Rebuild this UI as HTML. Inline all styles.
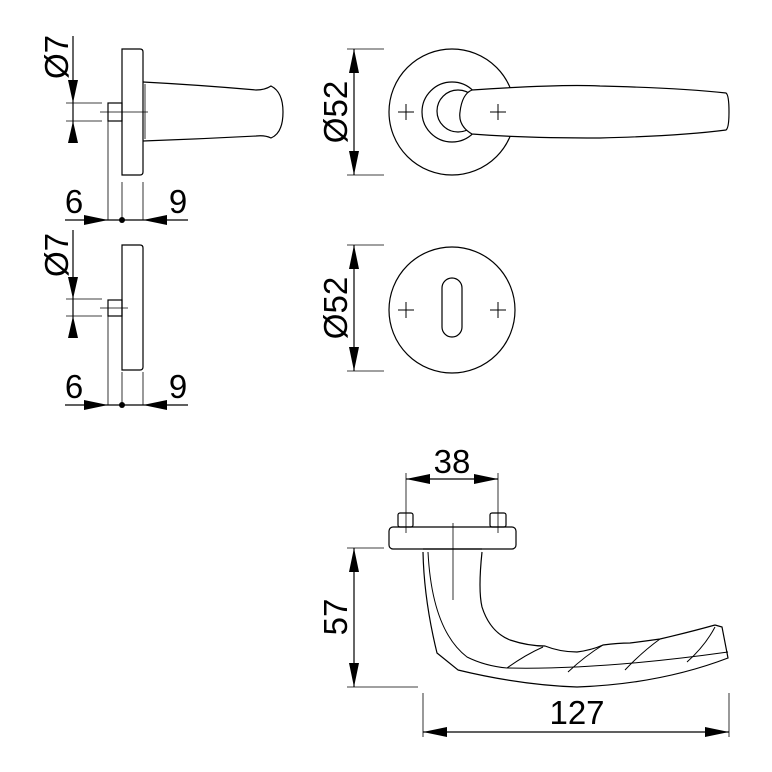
<!DOCTYPE html>
<html><head><meta charset="utf-8"><style>
html,body{margin:0;padding:0;background:#fff;}
svg{display:block;}
text{font-family:"Liberation Sans",Arial,sans-serif;font-size:33px;fill:#000;}
</style></head><body>
<svg width="772" height="772" viewBox="0 0 772 772" xmlns="http://www.w3.org/2000/svg">
<g fill="none" stroke="#000" stroke-width="1.2">
<!-- side view 1 -->
<path d="M122,49 H140 Q143,49 143,52 V172 Q143,175 140,175 H122 Z"/>
<path d="M143,82 Q200,85 256,90 Q265,90 271,86 Q283,92 283,112 Q283,133 271,138 Q265,135 256,136 Q200,139 143,141"/>
<line x1="145" y1="84" x2="145" y2="139" stroke-width="0.8"/>
<rect x="108" y="103" width="14" height="18"/>
<line x1="100" y1="112" x2="148" y2="112" stroke-width="0.8"/>
<line x1="73" y1="36" x2="73" y2="143"/>
<line x1="66" y1="103" x2="102" y2="103" stroke-width="0.8"/>
<line x1="66" y1="121" x2="102" y2="121" stroke-width="0.8"/>
<line x1="65" y1="220" x2="188" y2="220"/>
<line x1="108" y1="121" x2="108" y2="220" stroke-width="0.8"/>
<line x1="122" y1="182" x2="122" y2="220" stroke-width="0.8"/>
<line x1="143" y1="182" x2="143" y2="220" stroke-width="0.8"/>
<!-- side view 2 -->
<path d="M122,245 H140 Q143,245 143,248 V367 Q143,370 140,370 H122 Z"/>
<rect x="108" y="300" width="14" height="16"/>
<line x1="100" y1="308" x2="128" y2="308" stroke-width="0.8"/>
<line x1="73" y1="230" x2="73" y2="335"/>
<line x1="66" y1="299" x2="102" y2="299" stroke-width="0.8"/>
<line x1="66" y1="316" x2="102" y2="316" stroke-width="0.8"/>
<line x1="65" y1="405" x2="188" y2="405"/>
<line x1="108" y1="316" x2="108" y2="405" stroke-width="0.8"/>
<line x1="122" y1="372" x2="122" y2="405" stroke-width="0.8"/>
<line x1="143" y1="372" x2="143" y2="405" stroke-width="0.8"/>
<!-- front rose 1 -->
<circle cx="452" cy="112" r="63"/>
<circle cx="452" cy="112" r="30" fill="#fff"/>
<circle cx="458" cy="111" r="21"/>
<path d="M472,90 Q560,84 600,86 Q680,88 726,93 Q729,95 729,112 Q729,128 726,130 Q680,136 600,138 Q520,138 472,134 Q458,126 460,112 Q462,94 472,90 Z" fill="#fff"/>
<line x1="354" y1="49" x2="354" y2="175"/>
<line x1="347" y1="49" x2="384" y2="49" stroke-width="0.8"/>
<line x1="347" y1="175" x2="384" y2="175" stroke-width="0.8"/>
<!-- escutcheon -->
<circle cx="452" cy="310" r="63"/>
<rect x="442" y="278" width="20" height="59" rx="10"/>
<line x1="354" y1="245" x2="354" y2="371"/>
<line x1="347" y1="245" x2="384" y2="245" stroke-width="0.8"/>
<line x1="347" y1="371" x2="384" y2="371" stroke-width="0.8"/>
<!-- crosses -->
<path d="M398,112 H414 M406,104 V120 M490,112 H506 M498,104 V120 M398,310 H414 M406,302 V318 M490,310 H506 M498,302 V318" stroke-width="1"/>
<!-- bottom handle -->
<line x1="406" y1="473" x2="406" y2="533" stroke-width="0.8"/>
<line x1="498" y1="473" x2="498" y2="533" stroke-width="0.8"/>
<line x1="406" y1="479" x2="498" y2="479"/>
<rect x="398" y="513" width="15" height="14" rx="2"/>
<rect x="490" y="513" width="16" height="14" rx="2"/>
<rect x="389" y="527" width="127" height="22" rx="4"/>
<path d="M423,552 Q424,600 437,653 L458,670 Q520,685 577,687 Q660,684 728,658 L722,627 L715,625"/>
<path d="M482,552 Q478,590 482,607 Q490,632 510,640 Q528,646 545,646 Q560,652 577,652 Q592,650 603,645 Q618,643 630,643 Q646,641 660,639 Q690,632 715,625"/>
<path d="M428,552 Q432,630 467,657 Q485,666 507,668 Q600,670 728,652" stroke-width="1"/>
<path d="M507,668 Q525,655 543,647 M568,672 Q585,656 603,645 M625,670 Q642,652 660,639 M687,662 Q705,646 715,627" stroke-width="1"/>
<line x1="423" y1="549" x2="482" y2="549"/>
<line x1="453" y1="523" x2="453" y2="600" stroke-width="0.8"/>
<line x1="354" y1="548" x2="354" y2="687"/>
<line x1="347" y1="548" x2="384" y2="548" stroke-width="0.8"/>
<line x1="347" y1="687" x2="418" y2="687" stroke-width="0.8"/>
<line x1="423" y1="693" x2="423" y2="737" stroke-width="0.8"/>
<line x1="729" y1="693" x2="729" y2="737" stroke-width="0.8"/>
<line x1="423" y1="732" x2="729" y2="732"/>
</g>
<g fill="#000">
<path d="M73,103 L68,80 L78,80 Z"/><path d="M73,121 L68,143 L78,143 Z"/>
<path d="M108,220 L84,215 L84,225 Z"/><path d="M143,220 L167,215 L167,225 Z"/>
<circle cx="122" cy="220" r="3"/>
<path d="M73,299 L68,277 L78,277 Z"/><path d="M73,316 L68,338 L78,338 Z"/>
<path d="M108,405 L84,400 L84,410 Z"/><path d="M143,405 L167,400 L167,410 Z"/>
<circle cx="122" cy="405" r="3"/>
<path d="M354,49 L349,73 L359,73 Z"/><path d="M354,175 L349,151 L359,151 Z"/>
<path d="M354,245 L349,269 L359,269 Z"/><path d="M354,371 L349,347 L359,347 Z"/>
<path d="M406,479 L430,474 L430,484 Z"/><path d="M498,479 L474,474 L474,484 Z"/>
<path d="M354,548 L349,572 L359,572 Z"/><path d="M354,687 L349,663 L359,663 Z"/>
<path d="M423,732 L447,727 L447,737 Z"/><path d="M729,732 L705,727 L705,737 Z"/>
</g>
<text x="74" y="213" text-anchor="middle">6</text>
<text x="178" y="213" text-anchor="middle">9</text>
<text x="74" y="398" text-anchor="middle">6</text>
<text x="178" y="398" text-anchor="middle">9</text>
<text transform="translate(68,57) rotate(-90)" text-anchor="middle">Ø7</text>
<text transform="translate(68,255) rotate(-90)" text-anchor="middle">Ø7</text>
<text transform="translate(347,112) rotate(-90)" text-anchor="middle">Ø52</text>
<text transform="translate(347,308) rotate(-90)" text-anchor="middle">Ø52</text>
<text transform="translate(347,617) rotate(-90)" text-anchor="middle">57</text>
<text x="452" y="473" text-anchor="middle">38</text>
<text x="577" y="724" text-anchor="middle">127</text>
</svg>
</body></html>
